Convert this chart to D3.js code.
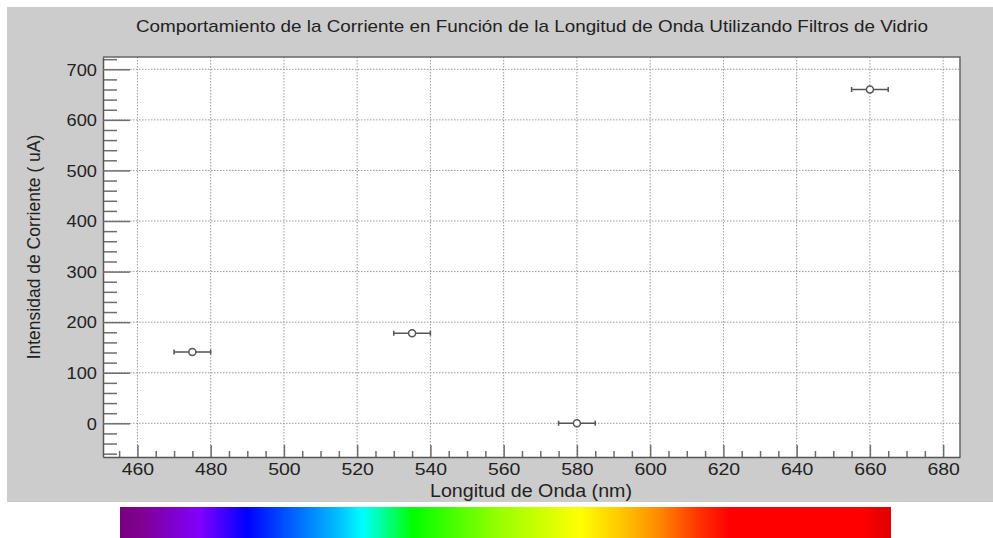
<!DOCTYPE html>
<html>
<head>
<meta charset="utf-8">
<script src="https://cdn.jsdelivr.net/npm/d3@7"></script>
<style>
  body { margin: 0; background: #fff; }
  text { font-family: "Liberation Sans", Arial, Helvetica, sans-serif; fill: #222; }
</style>
</head>
<body>
<div id="chart"></div>
<script>
// wavelengths of the glass filters (nm) and measured current (uA)
const wavelengths = [475, 535, 580, 660];
const currents = [141, 178, 0, 660];
const wavelengthErr = [5, 5, 5, 5];

const xTicks = [460, 480, 500, 520, 540, 560, 580, 600, 620, 640, 660, 680];
const yTicks = [0, 100, 200, 300, 400, 500, 600, 700];

// spectrum strip under the chart
const spectrumOffsets = [0, 0.026, 0.104, 0.165, 0.233, 0.279, 0.315, 0.38, 0.493, 0.597, 0.649, 0.70, 0.752, 0.791, 0.96, 1];
const spectrumColors = ['#770080', '#800090', '#8000ff', '#0000ff', '#0070ff', '#00b8ff', '#00ffff', '#00ff00',
                        '#99ff00', '#ffff00', '#ffc800', '#ff8800', '#ff3000', '#ff0000', '#ff0000', '#e00000'];

const W = 993, H = 538;
const plot = {left: 103, top: 57, right: 960, bottom: 457};

const svg = d3.select('#chart').append('svg')
    .attr('width', W)
    .attr('height', H);

// grey canvas
svg.append('rect')
    .attr('x', 7).attr('y', 7)
    .attr('width', W - 7).attr('height', 495)
    .attr('fill', '#cccccc');

const x = d3.scaleLinear().domain([450.6, 684.6]).range([plot.left, plot.right]);
const y = d3.scaleLinear().domain([-66.6, 724.3]).range([plot.bottom, plot.top]);

// plot area
svg.append('rect')
    .attr('x', plot.left).attr('y', plot.top)
    .attr('width', plot.right - plot.left).attr('height', plot.bottom - plot.top)
    .attr('fill', '#fff');

// dotted grid
const grid = svg.append('g').attr('class', 'grid');
grid.selectAll('.gx')
    .data(xTicks)
    .enter().append('line')
    .attr('x1', d => x(d)).attr('x2', d => x(d))
    .attr('y1', plot.top).attr('y2', plot.bottom);
grid.selectAll('.gy')
    .data(yTicks)
    .enter().append('line')
    .attr('y1', d => y(d)).attr('y2', d => y(d))
    .attr('x1', plot.left).attr('x2', plot.right);
grid.selectAll('line')
    .attr('stroke', '#9a9a9a')
    .attr('stroke-width', 1)
    .attr('stroke-dasharray', '1.5,1.5');

// frame top / right
svg.append('path')
    .attr('d', `M${plot.left},${plot.top}H${plot.right}V${plot.bottom}`)
    .attr('fill', 'none')
    .attr('stroke', '#666')
    .attr('stroke-width', 1.5);

// minor ticks
const xMinor = d3.range(455, 685, 5).filter(v => v % 20 !== 0);
const yMinor = d3.range(-60, 721, 20).filter(v => v % 100 !== 0);

svg.append('g')
    .attr('transform', `translate(0,${plot.bottom})`)
    .call(d3.axisBottom(x).tickValues(xMinor).tickSize(-6).tickFormat(''))
    .call(g => g.select('.domain').remove());
svg.append('g')
    .attr('transform', `translate(${plot.left},0)`)
    .call(d3.axisLeft(y).tickValues(yMinor).tickSize(-14).tickFormat(''))
    .call(g => g.select('.domain').remove());

// major ticks + labels
const xAxis = svg.append('g')
    .attr('class', 'axis axis-x')
    .attr('transform', `translate(0,${plot.bottom})`)
    .call(d3.axisBottom(x).tickValues(xTicks).tickSize(-12).tickPadding(0).tickSizeOuter(0));
xAxis.selectAll('text')
    .attr('y', 0).attr('dy', null)
    .attr('transform', 'translate(0,18) scale(1.18,1)')
    .style('font-size', '16.5px');

const yAxis = svg.append('g')
    .attr('class', 'axis axis-y')
    .attr('transform', `translate(${plot.left},0)`)
    .call(d3.axisLeft(y).tickValues(yTicks).tickSize(-27).tickPadding(0).tickSizeOuter(0));
yAxis.selectAll('text')
    .attr('x', 0).attr('dy', '0.36em')
    .attr('transform', 'translate(-6,0) scale(1.14,1)')
    .style('font-size', '16px');

svg.selectAll('.tick line').attr('stroke', '#6e6e6e').attr('stroke-width', 1.5);
svg.selectAll('.axis .domain').attr('stroke', '#555').attr('stroke-width', 1.5);
svg.selectAll('.axis text').attr('fill', '#222').attr('font-family', null);

// error bars + markers
const pts = wavelengths.map((w, i) => ({w: w, c: currents[i], e: wavelengthErr[i]}));
const marks = svg.append('g').attr('class', 'points');
marks.selectAll('.err')
    .data(pts)
    .enter().append('path')
    .attr('class', 'err')
    .attr('d', d => {
        const x0 = x(d.w - d.e), x1 = x(d.w + d.e), yy = y(d.c);
        return `M${x0},${yy}H${x1}M${x0},${yy - 2.5}V${yy + 2.5}M${x1},${yy - 2.5}V${yy + 2.5}`;
    })
    .attr('fill', 'none')
    .attr('stroke', '#555')
    .attr('stroke-width', 1.5);
marks.selectAll('circle')
    .data(pts)
    .enter().append('circle')
    .attr('cx', d => x(d.w))
    .attr('cy', d => y(d.c))
    .attr('r', 3.5)
    .attr('fill', '#fff')
    .attr('stroke', '#555')
    .attr('stroke-width', 1.5);

// texts
svg.append('text')
    .attr('x', 532).attr('y', 32)
    .attr('text-anchor', 'middle')
    .attr('textLength', 792)
    .attr('lengthAdjust', 'spacingAndGlyphs')
    .style('font-size', '17px')
    .text('Comportamiento de la Corriente en Función de la Longitud de Onda Utilizando Filtros de Vidrio');

svg.append('text')
    .attr('x', 531).attr('y', 497)
    .attr('text-anchor', 'middle')
    .attr('textLength', 202)
    .attr('lengthAdjust', 'spacingAndGlyphs')
    .style('font-size', '17.5px')
    .text('Longitud de Onda (nm)');

svg.append('text')
    .attr('transform', 'translate(40,247) rotate(-90)')
    .attr('text-anchor', 'middle')
    .style('font-size', '17.5px')
    .text('Intensidad de Corriente ( uA)');

// spectrum strip
const grad = svg.append('defs').append('linearGradient')
    .attr('id', 'spectrum')
    .attr('x1', '0%').attr('x2', '100%')
    .attr('y1', '0%').attr('y2', '0%');
grad.selectAll('stop')
    .data(spectrumOffsets)
    .enter().append('stop')
    .attr('offset', d => d)
    .attr('stop-color', (d, i) => spectrumColors[i]);

svg.append('rect')
    .attr('x', 120).attr('y', 507)
    .attr('width', 771).attr('height', 31)
    .attr('fill', 'url(#spectrum)');
</script>
</body>
</html>
